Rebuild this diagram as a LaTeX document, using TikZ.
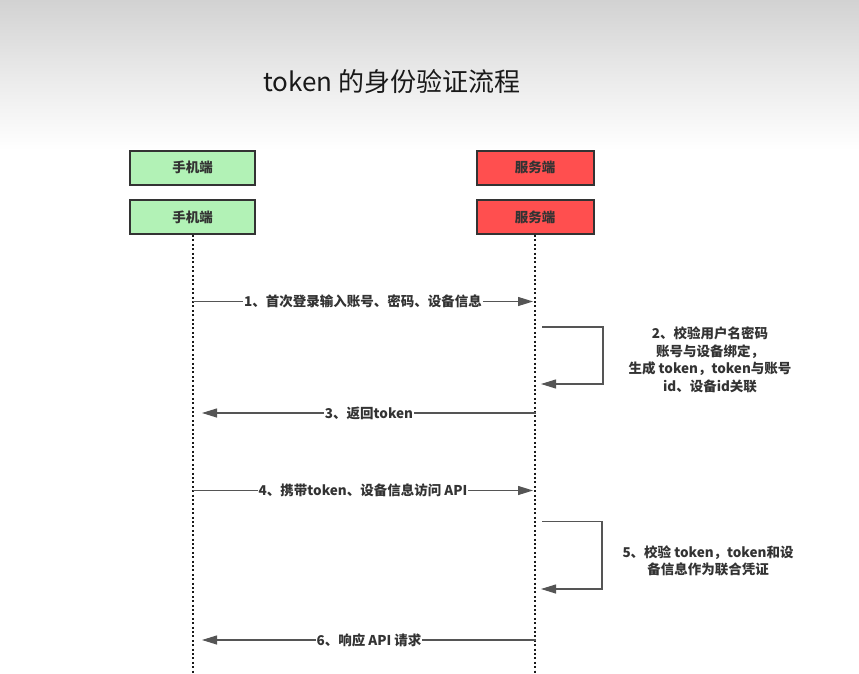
\documentclass[tikz,border=0pt]{standalone}
\usepackage{fontspec}
\setmainfont{Noto Sans CJK SC}
\usetikzlibrary{arrows.meta}
\definecolor{boxgreen}{HTML}{B2F2B6}
\definecolor{boxred}{HTML}{FF4F4F}
\definecolor{txt}{HTML}{333333}
\definecolor{ln}{HTML}{555555}
\definecolor{edge}{HTML}{333333}
\definecolor{topgray}{HTML}{D2D2D2}
\definecolor{midgray}{HTML}{EAEAEA}
\begin{document}
\begin{tikzpicture}[x=1pt,y=-1pt,
  actor/.style={draw=edge, line width=2pt, minimum height=34pt, inner sep=0pt,
    font=\bfseries\fontsize{13.5}{16}\selectfont, text=txt},
  client/.style={actor, fill=boxgreen, minimum width=125pt},
  server/.style={actor, fill=boxred, minimum width=117pt},
  life/.style={draw=black!90, line width=2pt, dash pattern=on 2pt off 2.4pt},
  msg/.style={draw=ln, line width=1.1pt, -{Triangle[length=15pt,width=9pt]}},
  lbl/.style={fill=white, inner sep=1pt, text=txt, font=\bfseries\fontsize{13.5}{16}\selectfont},
  note/.style={align=center, text=txt, font=\bfseries\fontsize{13.5}{17.5}\selectfont}
]
\useasboundingbox (0,0) rectangle (859,674);
\fill[white] (0,0) rectangle (859,674);
\shade[top color=topgray, bottom color=midgray] (0,0) rectangle (859,75);
\shade[top color=midgray, bottom color=white] (0,75) rectangle (859,150);

\node[font=\fontsize{26}{30}\selectfont, text=black!90] (title) at (392,82) {token 的身份验证流程};

\node[client] (c1) at (192.5,167.5) {手机端};
\node[client] (c2) at (192.5,217) {手机端};
\node[server] (s1) at (535,167.5) {服务端};
\node[server] (s2) at (535,217) {服务端};

\coordinate (cend) at (192.5,674);
\coordinate (send) at (535,674);
\draw[life] (c2.south) -- (cend);
\draw[life] (s2.south) -- (send);

% message 1
\coordinate (m1a) at (193,301.5);
\coordinate (m1b) at (533,301.5);
\draw[msg] (m1a) -- node[lbl] (t1) {1、首次登录输入账号、密码、设备信息} (m1b);

% self message 2
\coordinate (m2a) at (542,327);
\coordinate (m2b) at (541,384);
\draw[msg] (m2a) -- ++(61,0) |- (m2b);
\node[note] (t2) at (710,360) {2、校验用户名密码\\账号与设备绑定，\\生成 token，token与账号\\id、设备id关联};

% message 3
\coordinate (m3a) at (536,413);
\coordinate (m3b) at (202,413);
\draw[msg] (m3a) -- node[lbl] (t3) {3、返回token} (m3b);

% message 4
\coordinate (m4a) at (193,490.5);
\coordinate (m4b) at (533,490.5);
\draw[msg] (m4a) -- node[lbl] (t4) {4、携带token、设备信息访问 API} (m4b);

% self message 5
\coordinate (m5a) at (542,521.5);
\coordinate (m5b) at (541,589);
\draw[msg] (m5a) -- ++(60,0) |- (m5b);
\node[note] (t5) at (708,561) {5、校验 token，token和设\\备信息作为联合凭证};

% message 6
\coordinate (m6a) at (536,640);
\coordinate (m6b) at (202,640);
\draw[msg] (m6a) -- node[lbl] (t6) {6、响应 API 请求} (m6b);
\end{tikzpicture}
\end{document}
